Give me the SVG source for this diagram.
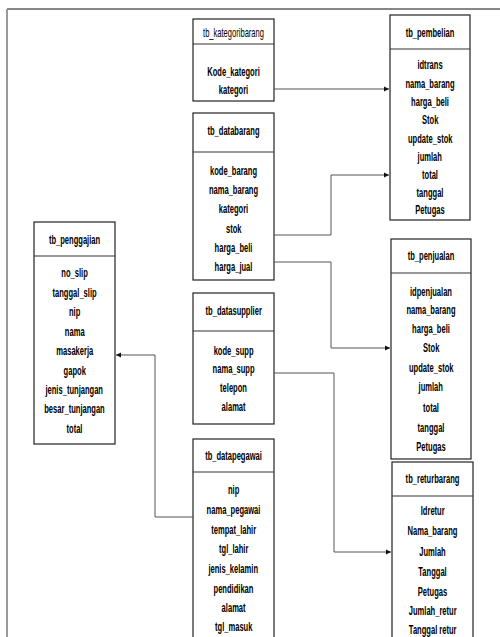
<svg xmlns="http://www.w3.org/2000/svg" width="500" height="637" viewBox="0 0 500 637">
<style>
.box{fill:#fff;stroke:#222;stroke-width:1.2}
.div{stroke:#333;stroke-width:1.2}
.t{font-family:"Liberation Sans",Arial,sans-serif;font-size:13.5px;font-weight:bold;fill:#000;text-anchor:middle;dominant-baseline:central;transform-box:fill-box;transform-origin:center;transform:scaleX(0.56)}
.h{font-weight:bold}
.r{font-weight:normal}
.c{fill:none;stroke:#555;stroke-width:1}
</style>
<defs>
<marker id="ar" markerWidth="6" markerHeight="6" refX="5" refY="3" orient="auto" markerUnits="userSpaceOnUse">
<path d="M0,0.5 L5,3 L0,5.5 Z" fill="#111"/>
</marker>
</defs>
<rect x="0" y="0" width="500" height="637" fill="#fff"/>
<g id="frame">
<line x1="7" y1="9" x2="500" y2="9" stroke="#111" stroke-width="1.2"/>
<line x1="7" y1="9" x2="7" y2="637" stroke="#999" stroke-width="2"/>
</g>
<g id="tb_kategoribarang">
<rect class="box" x="193" y="19" width="81" height="82"/>
<line class="div" x1="193" y1="44" x2="274" y2="44"/>
<text class="t r" x="233.5" y="32">tb_kategoribarang</text>
<text class="t" x="233.5" y="71">Kode_kategori</text>
<text class="t" x="233.5" y="89">kategori</text>
</g>
<g id="tb_databarang">
<rect class="box" x="193" y="113" width="81" height="167"/>
<line class="div" x1="193" y1="152" x2="274" y2="152"/>
<text class="t h" x="233.5" y="130">tb_databarang</text>
<text class="t" x="233.5" y="170">kode_barang</text>
<text class="t" x="233.5" y="189">nama_barang</text>
<text class="t" x="233.5" y="208">kategori</text>
<text class="t" x="233.5" y="228">stok</text>
<text class="t" x="233.5" y="247">harga_beli</text>
<text class="t" x="233.5" y="266">harga_jual</text>
</g>
<g id="tb_datasupplier">
<rect class="box" x="193" y="293" width="81" height="131"/>
<line class="div" x1="193" y1="331" x2="274" y2="331"/>
<text class="t h" x="233.5" y="310">tb_datasupplier</text>
<text class="t" x="233.5" y="350">kode_supp</text>
<text class="t" x="233.5" y="368">nama_supp</text>
<text class="t" x="233.5" y="387">telepon</text>
<text class="t" x="233.5" y="406">alamat</text>
</g>
<g id="tb_datapegawai">
<rect class="box" x="193" y="439" width="81" height="210"/>
<line class="div" x1="193" y1="472" x2="274" y2="472"/>
<text class="t h" x="233.5" y="455">tb_datapegawai</text>
<text class="t" x="233.5" y="489">nip</text>
<text class="t" x="233.5" y="509">nama_pegawai</text>
<text class="t" x="233.5" y="529">tempat_lahir</text>
<text class="t" x="233.5" y="548">tgl_lahir</text>
<text class="t" x="233.5" y="568">jenis_kelamin</text>
<text class="t" x="233.5" y="588">pendidikan</text>
<text class="t" x="233.5" y="607">alamat</text>
<text class="t" x="233.5" y="626">tgl_masuk</text>
</g>
<g id="tb_penggajian">
<rect class="box" x="34" y="222" width="81" height="222"/>
<line class="div" x1="34" y1="256" x2="115" y2="256"/>
<text class="t h" x="74.5" y="239">tb_penggajian</text>
<text class="t" x="74.5" y="272">no_slip</text>
<text class="t" x="74.5" y="292">tanggal_slip</text>
<text class="t" x="74.5" y="311">nip</text>
<text class="t" x="74.5" y="331">nama</text>
<text class="t" x="74.5" y="350">masakerja</text>
<text class="t" x="74.5" y="370">gapok</text>
<text class="t" x="74.5" y="389">jenis_tunjangan</text>
<text class="t" x="74.5" y="408">besar_tunjangan</text>
<text class="t" x="74.5" y="428">total</text>
</g>
<g id="tb_pembelian">
<rect class="box" x="390" y="15" width="80" height="205"/>
<line class="div" x1="390" y1="49" x2="470" y2="49"/>
<text class="t h" x="430" y="32">tb_pembelian</text>
<text class="t" x="430" y="64">idtrans</text>
<text class="t" x="430" y="83">nama_barang</text>
<text class="t" x="430" y="101">harga_beli</text>
<text class="t" x="430" y="119">Stok</text>
<text class="t" x="430" y="138">update_stok</text>
<text class="t" x="430" y="156">jumlah</text>
<text class="t" x="430" y="174">total</text>
<text class="t" x="430" y="192">tanggal</text>
<text class="t" x="430" y="209">Petugas</text>
</g>
<g id="tb_penjualan">
<rect class="box" x="391" y="239" width="80" height="220"/>
<line class="div" x1="391" y1="273" x2="471" y2="273" stroke-width="2"/>
<text class="t h" x="431" y="255">tb_penjualan</text>
<text class="t" x="431" y="291">idpenjualan</text>
<text class="t" x="431" y="309">nama_barang</text>
<text class="t" x="431" y="328">harga_beli</text>
<text class="t" x="431" y="347">Stok</text>
<text class="t" x="431" y="367">update_stok</text>
<text class="t" x="431" y="386">jumlah</text>
<text class="t" x="431" y="407">total</text>
<text class="t" x="431" y="427">tanggal</text>
<text class="t" x="431" y="446">Petugas</text>
</g>
<g id="tb_returbarang">
<rect class="box" x="392" y="462" width="81" height="190"/>
<line class="div" x1="392" y1="496" x2="473" y2="496"/>
<text class="t h" x="432.5" y="478">tb_returbarang</text>
<text class="t" x="432.5" y="510">Idretur</text>
<text class="t" x="432.5" y="530">Nama_barang</text>
<text class="t" x="432.5" y="551">Jumlah</text>
<text class="t" x="432.5" y="571">Tanggal</text>
<text class="t" x="432.5" y="591">Petugas</text>
<text class="t" x="432.5" y="610">Jumlah_retur</text>
<text class="t" x="432.5" y="629">Tanggal retur</text>
</g>
<g id="connectors">
<path class="c" d="M274,89 H389" marker-end="url(#ar)"/>
<path class="c" d="M274,235 H331 V175 H389" marker-end="url(#ar)"/>
<path class="c" d="M274,262 H331 V348 H390" marker-end="url(#ar)"/>
<path class="c" d="M274,373 H334 V552 H391" marker-end="url(#ar)"/>
<path class="c" d="M193,517 H155 V355 H116" marker-end="url(#ar)"/>
</g>
</svg>
